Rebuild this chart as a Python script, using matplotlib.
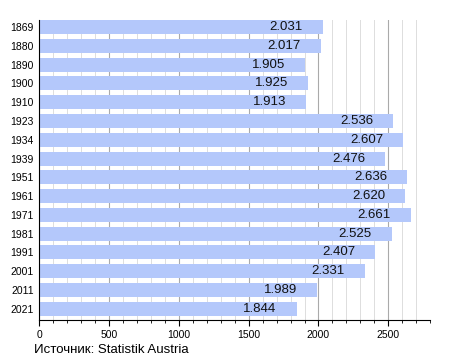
import matplotlib.pyplot as plt
from matplotlib.ticker import MultipleLocator

plt.rcParams['font.family'] = ['Liberation Sans', 'DejaVu Sans']

years = ['1869', '1880', '1890', '1900', '1910', '1923', '1934', '1939',
         '1951', '1961', '1971', '1981', '1991', '2001', '2011', '2021']
population = [2031, 2017, 1905, 1925, 1913, 2536, 2607, 2476,
              2636, 2620, 2661, 2525, 2407, 2331, 1989, 1844]

fig = plt.figure(figsize=(4.5, 3.6), dpi=100)
ax = fig.add_axes([0.087, 0.111, 0.869, 0.833])

pos = list(range(len(years)))
ax.barh(pos, population, height=0.75, color='#b4c8fb', zorder=2)

# подписи значений внутри столбцов
for p, v in zip(pos, population):
    txt = f'{v // 1000}.{v % 1000:03d}'
    ax.annotate(txt, xy=(v, p), xytext=(-20, 0), textcoords='offset pixels',
                ha='right', va='center', fontsize=9.5, color='#111111', zorder=3)

ax.set_xlim(0, 2800)
ax.set_ylim(15.6, -0.37)
ax.set_yticks(pos)
ax.set_yticklabels(years, fontsize=7.5)
ax.tick_params(axis='y', length=0, pad=4)
ax.xaxis.set_major_locator(MultipleLocator(500))
ax.xaxis.set_minor_locator(MultipleLocator(100))
ax.tick_params(axis='x', labelsize=7.5, length=4, direction='out')
ax.tick_params(axis='x', which='minor', length=2.5)
ax.grid(axis='x', which='major', color='#aaaaaa', linewidth=0.8, zorder=0)
ax.grid(axis='x', which='minor', color='#dddddd', linewidth=0.7, zorder=0)
ax.set_axisbelow(True)

for s in ['top', 'right']:
    ax.spines[s].set_visible(False)

fig.text(0.075, 0.012, 'Источник: Statistik Austria', fontsize=9.5, ha='left', va='bottom')

plt.savefig('out.png', dpi=100)
